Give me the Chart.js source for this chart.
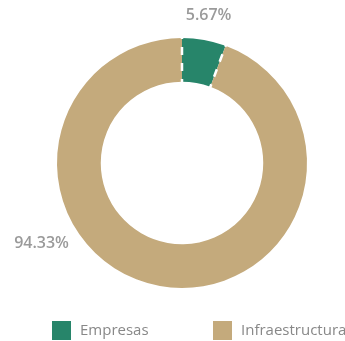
<!DOCTYPE html>
<html>
<head>
<meta charset="utf-8">
<script src="https://cdn.jsdelivr.net/npm/chart.js@4/dist/chart.umd.min.js"></script>
<style>
  html, body { margin: 0; padding: 0; background: #fff; }
  #wrap { position: relative; width: 345px; height: 341px; }
</style>
</head>
<body>
<div id="wrap"><canvas id="c" width="345" height="341"></canvas></div>
<script>
// Share of investment by destination
const categories = ['Empresas', 'Infraestructura'];
const shares = [5.67, 94.33];
const colors = ['#27856a', '#c4aa7c'];

// Percentage labels placed just outside the ring
const sliceLabels = {
  id: 'sliceLabels',
  afterDatasetsDraw(chart, args, opts) {
    const ctx = chart.ctx;
    const meta = chart.getDatasetMeta(0);
    ctx.save();
    ctx.font = '600 16px "Open Sans"';
    ctx.fillStyle = '#9a9a9a';
    ctx.textAlign = 'center';
    ctx.textBaseline = 'middle';
    meta.data.forEach((arc, i) => {
      const p = arc.getProps(['x', 'y', 'startAngle', 'endAngle', 'outerRadius'], true);
      const a = p.startAngle + (p.endAngle - p.startAngle) * opts.along[i];
      const r = p.outerRadius + opts.gap[i];
      const v = chart.data.datasets[0].data[i];
      ctx.fillText(v.toFixed(2) + '%', p.x + Math.cos(a) * r, p.y + Math.sin(a) * r);
    });
    ctx.restore();
  }
};

// White dashed separators at each slice boundary
const separators = {
  id: 'separators',
  afterDatasetsDraw(chart) {
    const ctx = chart.ctx;
    const meta = chart.getDatasetMeta(0);
    ctx.save();
    ctx.strokeStyle = '#ffffff';
    ctx.lineWidth = 2.5;
    ctx.setLineDash([8, 8]);
    meta.data.forEach((arc) => {
      const p = arc.getProps(['x', 'y', 'startAngle', 'innerRadius', 'outerRadius'], true);
      const c = Math.cos(p.startAngle), s = Math.sin(p.startAngle);
      const r0 = p.outerRadius + 7, r1 = p.innerRadius - 2;
      ctx.beginPath();
      ctx.moveTo(p.x + c * r0, p.y + s * r0);
      ctx.lineTo(p.x + c * r1, p.y + s * r1);
      ctx.stroke();
    });
    ctx.restore();
  }
};

// Legend row along the bottom
const bottomLegend = {
  id: 'bottomLegend',
  afterDraw(chart, args, opts) {
    const ctx = chart.ctx;
    const ds = chart.data.datasets[0];
    ctx.save();
    ctx.font = '15px "Open Sans"';
    ctx.textBaseline = 'middle';
    ctx.textAlign = 'left';
    chart.data.labels.forEach((label, i) => {
      const x = opts.starts[i];
      ctx.fillStyle = ds.backgroundColor[i];
      ctx.fillRect(x, opts.y - 9, 19, 19);
      ctx.fillStyle = '#888888';
      ctx.fillText(label, x + 28, opts.y + 1);
    });
    ctx.restore();
  }
};

new Chart(document.getElementById('c'), {
  type: 'doughnut',
  data: {
    labels: categories,
    datasets: [{
      data: shares,
      backgroundColor: colors,
      borderWidth: 0
    }]
  },
  options: {
    responsive: false,
    animation: false,
    cutout: '65%',
    layout: { padding: { top: 38, bottom: 53, left: 19, right: 0 } },
    plugins: {
      legend: { display: false },
      tooltip: { enabled: false },
      sliceLabels: { along: [0.5, 0.647], gap: [25, 37] },
      bottomLegend: { starts: [52, 213], y: 330 }
    }
  },
  plugins: [separators, sliceLabels, bottomLegend]
});
</script>
</body>
</html>
